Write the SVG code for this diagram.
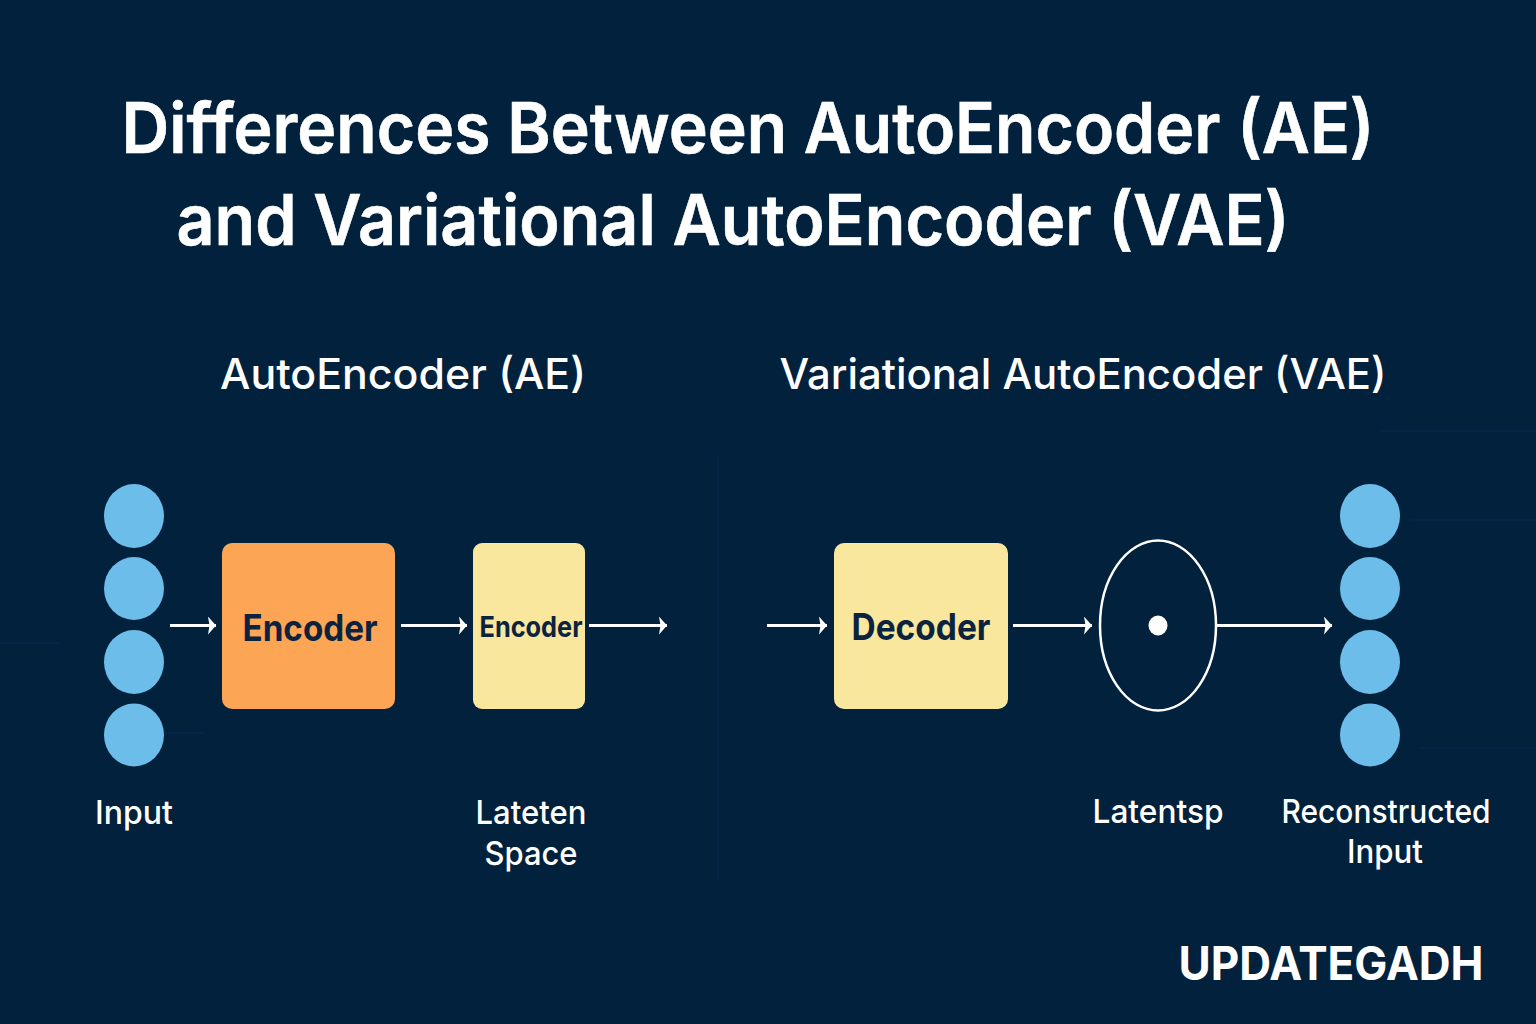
<svg xmlns="http://www.w3.org/2000/svg" width="1536" height="1024" viewBox="0 0 1536 1024">
<style>
text{font-family:"Inter","Noto Sans","Liberation Sans",sans-serif;}
.title{font-size:70px;font-weight:600;fill:#fff;text-anchor:middle;stroke:#fff;stroke-width:.6;}
.head{font-size:42px;font-weight:500;fill:#fff;text-anchor:middle;}
.label{font-size:33px;font-weight:500;fill:#fff;text-anchor:middle;}
.box{font-weight:700;fill:#0c2340;text-anchor:middle;}
.dot{fill:#6cbde9;}
.arrow{fill:none;stroke:#fff;stroke-width:3;marker-end:url(#ah);}
.faint{fill:none;stroke:#06294a;stroke-width:1.5;}
</style>
<defs><marker id="ah" markerUnits="userSpaceOnUse" markerWidth="11" markerHeight="20" refX="10" refY="9" orient="auto"><path d="M2 0L10 9L2 18L3.500 9Z" fill="#fff"/></marker></defs>
<rect width="1536" height="1024" fill="#02213c"/>
<g id="bg"><path class="faint" d="M718 456V880M0 643H60M150 733H205M1380 431H1536M1420 748H1536M1410 520H1536"/></g>
<text class="title" x="748" y="153" textLength="1253" lengthAdjust="spacingAndGlyphs">Differences Between AutoEncoder (AE)</text>
<text class="title" x="733" y="245" textLength="1113" lengthAdjust="spacingAndGlyphs">and Variational AutoEncoder (VAE)</text>
<text class="head" x="403" y="389" textLength="366" lengthAdjust="spacingAndGlyphs">AutoEncoder (AE)</text>
<text class="head" x="1083" y="389" textLength="607" lengthAdjust="spacingAndGlyphs">Variational AutoEncoder (VAE)</text>
<g id="input"><ellipse class="dot" cx="134" cy="516" rx="30" ry="32"/><ellipse class="dot" cx="134" cy="588.500" rx="30" ry="31.500"/><ellipse class="dot" cx="134" cy="662" rx="30" ry="32"/><ellipse class="dot" cx="134" cy="735" rx="30" ry="31.500"/><text class="label" x="134" y="824" textLength="78" lengthAdjust="spacingAndGlyphs">Input</text></g>
<g id="encoder"><rect x="222" y="543" width="173" height="166" rx="10" fill="#fba555"/><text class="box" x="310" y="641" font-size="37" textLength="135" lengthAdjust="spacingAndGlyphs">Encoder</text></g>
<g id="latent-ae"><rect x="473" y="543" width="112" height="166" rx="9" fill="#f8e79c"/><text class="box" x="531" y="637" font-size="29" textLength="103" lengthAdjust="spacingAndGlyphs">Encoder</text><text class="label" x="531" y="824" textLength="111" lengthAdjust="spacingAndGlyphs">Lateten</text><text class="label" x="531" y="865" textLength="93" lengthAdjust="spacingAndGlyphs">Space</text></g>
<g id="decoder"><rect x="834" y="543" width="174" height="166" rx="10" fill="#f8e79c"/><text class="box" x="921" y="640" font-size="37" textLength="139" lengthAdjust="spacingAndGlyphs">Decoder</text></g>
<g id="latent-vae"><ellipse cx="1158" cy="625.500" rx="58" ry="85" fill="none" stroke="#fff" stroke-width="2.500"/><ellipse cx="1158" cy="625.500" rx="9.500" ry="10" fill="#fff"/><text class="label" x="1158" y="823" textLength="131" lengthAdjust="spacingAndGlyphs">Latentsp</text></g>
<g id="output"><ellipse class="dot" cx="1370" cy="516" rx="30" ry="32"/><ellipse class="dot" cx="1370" cy="588.500" rx="30" ry="31.500"/><ellipse class="dot" cx="1370" cy="662" rx="30" ry="32"/><ellipse class="dot" cx="1370" cy="735" rx="30" ry="31.500"/><text class="label" x="1386" y="823" textLength="209" lengthAdjust="spacingAndGlyphs">Reconstructed</text><text class="label" x="1385" y="863" textLength="76" lengthAdjust="spacingAndGlyphs">Input</text></g>
<g id="connectors"><path class="arrow" d="M170 625.500H216"/><path class="arrow" d="M401 625.500H467"/><path class="arrow" d="M589 625.500H667"/><path class="arrow" d="M767 625.500H827"/><path class="arrow" d="M1013 625.500H1092"/><path class="arrow" d="M1217 625.500H1332"/></g>
<text x="1331" y="980" font-size="46" font-weight="700" fill="#fff" text-anchor="middle" textLength="305" lengthAdjust="spacingAndGlyphs">UPDATEGADH</text>
</svg>
